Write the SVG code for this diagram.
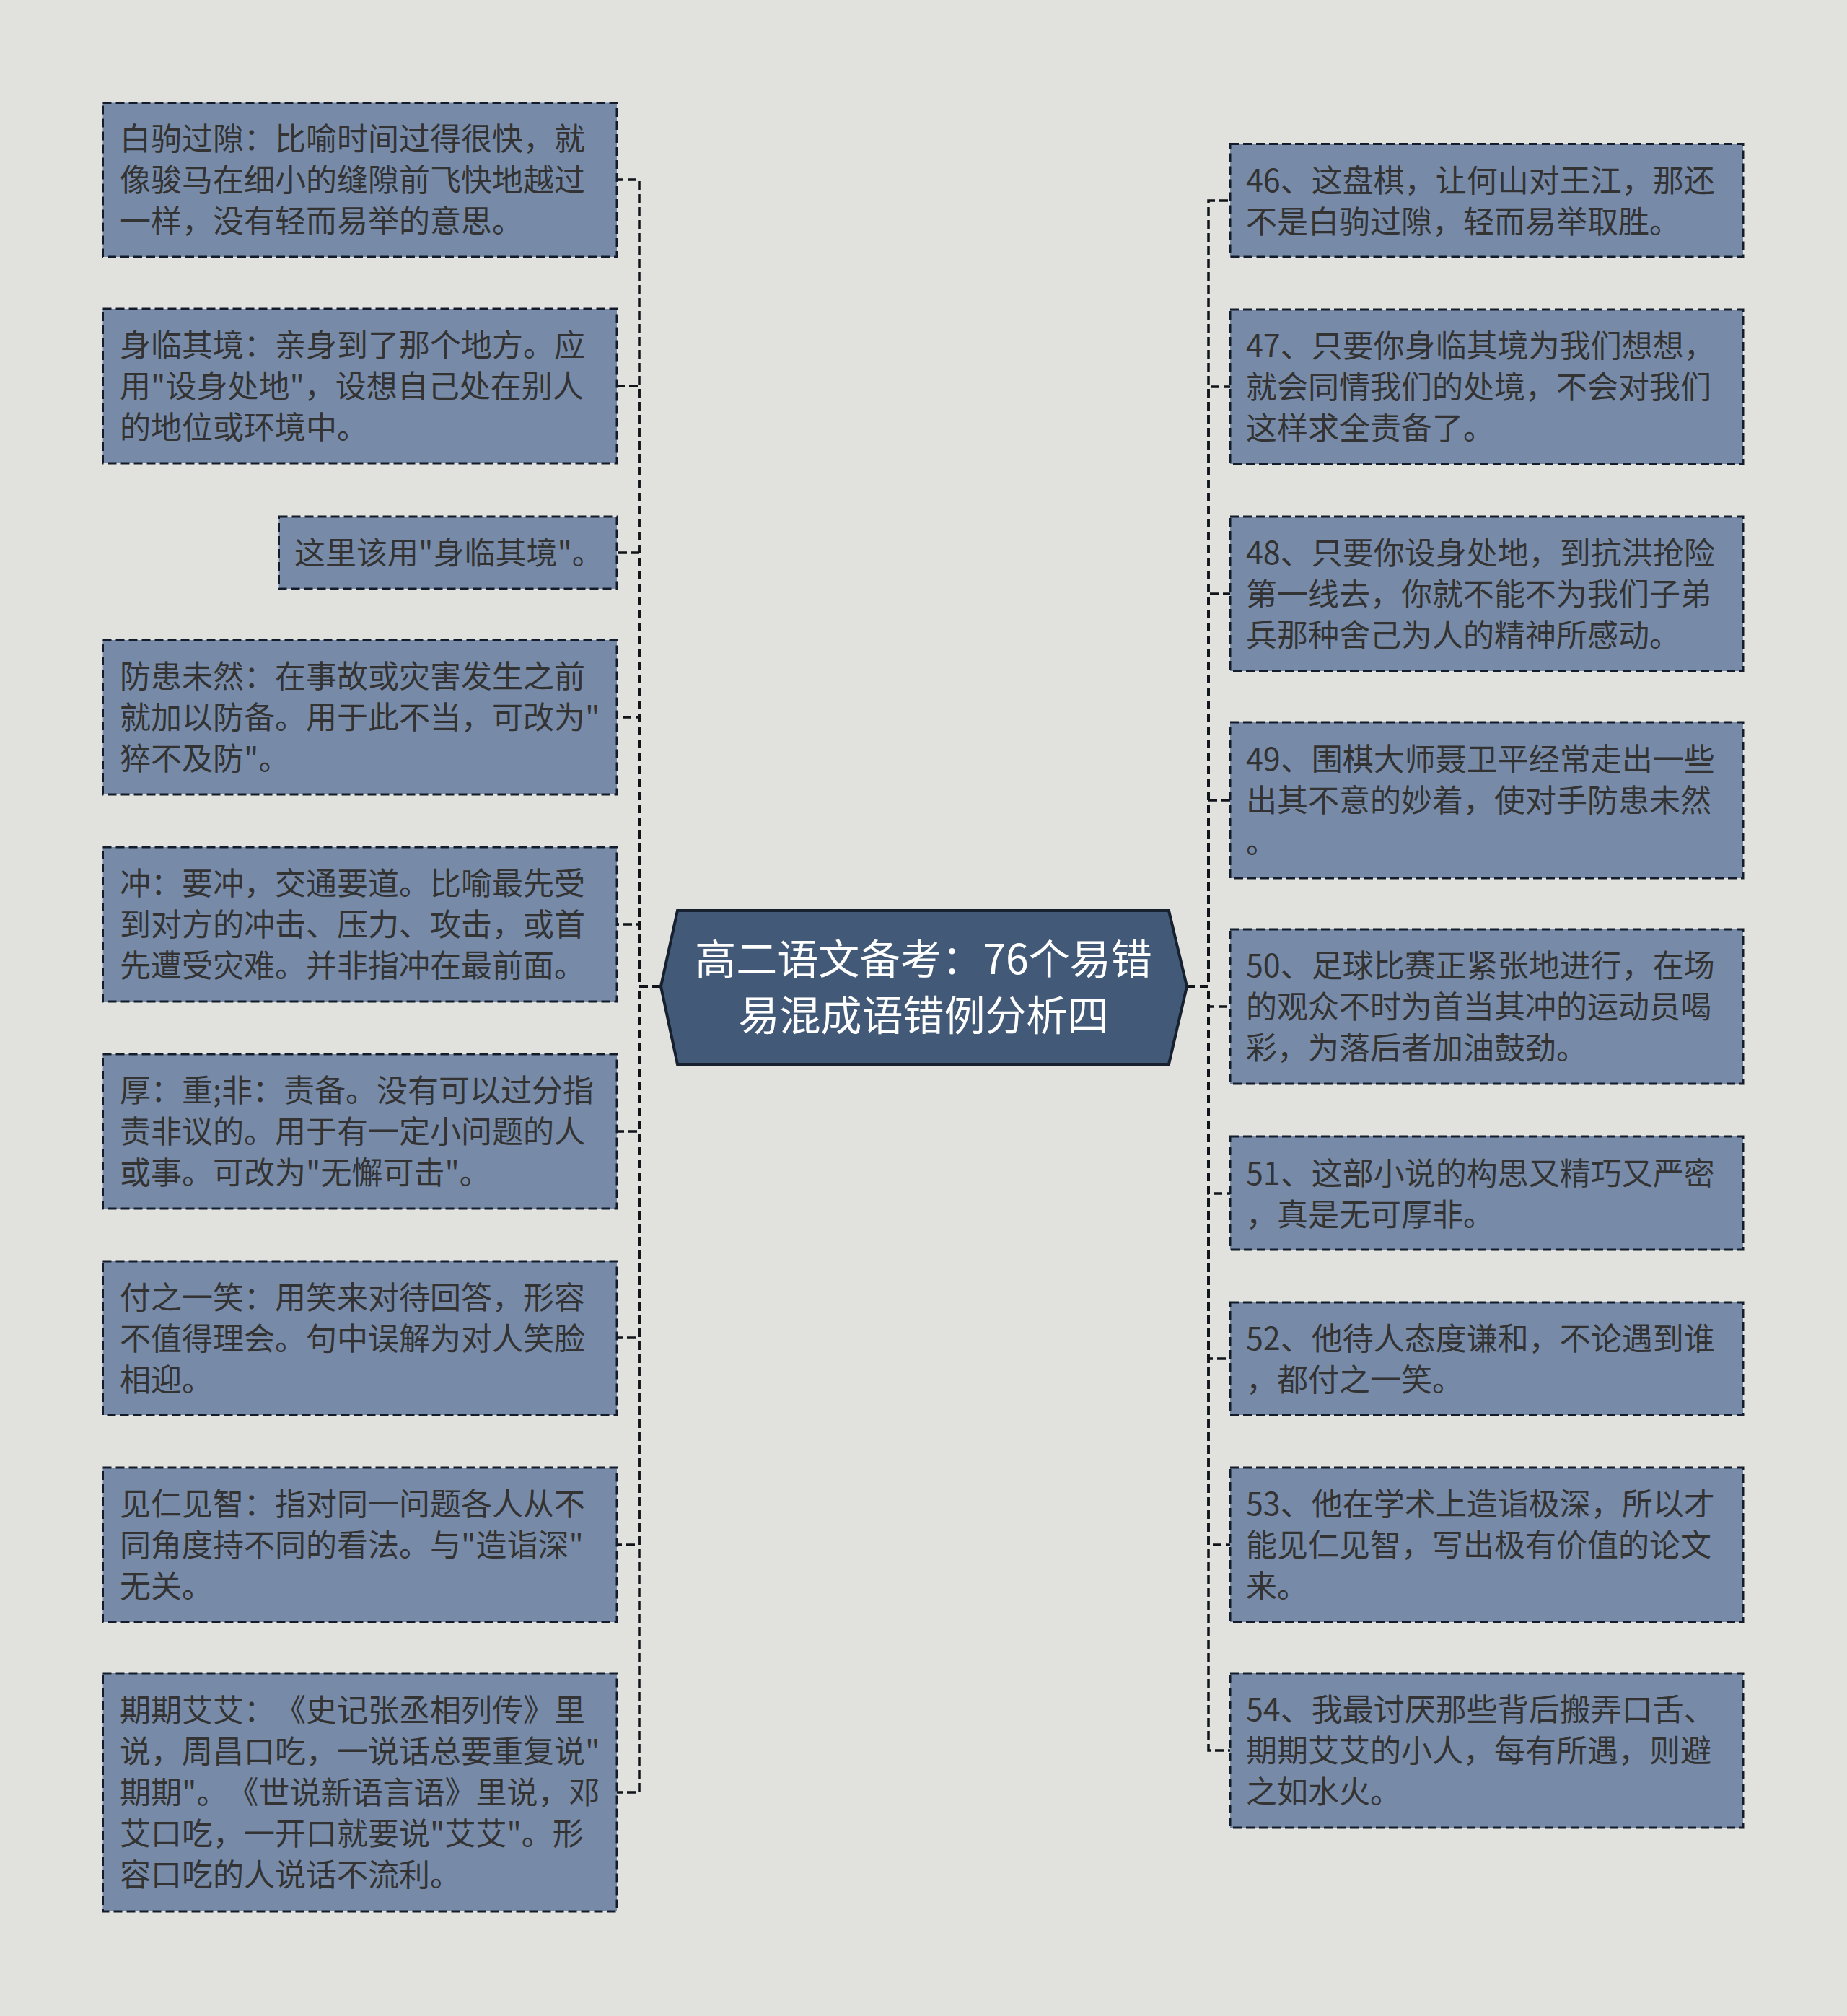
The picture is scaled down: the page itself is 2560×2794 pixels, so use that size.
<svg xmlns="http://www.w3.org/2000/svg" width="2560" height="2794" viewBox="0 0 2560 2794">
<style>
.bg{fill:#e1e2de}
.box{fill:#778ba9;stroke:#141c2b;stroke-width:3;stroke-dasharray:12 6}
.t{font-family:"Noto Sans CJK SC","Noto Sans",sans-serif;font-size:43px;fill:#333333;text-spacing-trim:space-all;font-kerning:none}
.ct{font-family:"Noto Sans CJK SC","Noto Sans",sans-serif;font-size:57px;fill:#ffffff;text-anchor:middle;text-spacing-trim:space-all;font-kerning:none}
.hex{fill:#425a78;stroke:#16202e;stroke-width:4}
.ln{fill:none;stroke:#111418;stroke-width:3.5;stroke-dasharray:12 6}
</style>
<rect class="bg" x="0" y="0" width="2560" height="2794"/>
<g id="connectors">
<path class="ln" d="M916,1367 H886 V249 H855"/>
<path class="ln" d="M916,1367 H886 V535 H855"/>
<path class="ln" d="M916,1367 H886 V766 H855"/>
<path class="ln" d="M916,1367 H886 V994 H855"/>
<path class="ln" d="M916,1367 H886 V1281 H855"/>
<path class="ln" d="M916,1367 H886 V1568 H855"/>
<path class="ln" d="M916,1367 H886 V1854 H855"/>
<path class="ln" d="M916,1367 H886 V2141 H855"/>
<path class="ln" d="M916,1367 H886 V2484 H855"/>
<path class="ln" d="M1645,1367 H1675 V278 H1705"/>
<path class="ln" d="M1645,1367 H1675 V536 H1705"/>
<path class="ln" d="M1645,1367 H1675 V823 H1705"/>
<path class="ln" d="M1645,1367 H1675 V1109 H1705"/>
<path class="ln" d="M1645,1367 H1675 V1395 H1705"/>
<path class="ln" d="M1645,1367 H1675 V1654 H1705"/>
<path class="ln" d="M1645,1367 H1675 V1883 H1705"/>
<path class="ln" d="M1645,1367 H1675 V2141 H1705"/>
<path class="ln" d="M1645,1367 H1675 V2426 H1705"/>
</g>
<g id="center">
<polygon class="hex" points="916,1367 939,1262 1620,1262 1645,1367 1620,1475 939,1475"/>
<text class="ct" x="1280" y="1350">高二语文备考：76个易错</text>
<text class="ct" x="1280" y="1428">易混成语错例分析四</text>
</g>
<g id="l1">
<rect class="box" x="142.5" y="142.5" width="712.5" height="213.5"/>
<text class="t" x="166" y="208">白驹过隙：比喻时间过得很快，就</text>
<text class="t" x="166" y="265">像骏马在细小的缝隙前飞快地越过</text>
<text class="t" x="166" y="322">一样，没有轻而易举的意思。</text>
</g>
<g id="l2">
<rect class="box" x="142.5" y="428" width="712.5" height="214"/>
<text class="t" x="166" y="494">身临其境：亲身到了那个地方。应</text>
<text class="t" x="166" y="551">用"设身处地"，设想自己处在别人</text>
<text class="t" x="166" y="608">的地位或环境中。</text>
</g>
<g id="l3">
<rect class="box" x="386.5" y="716" width="468.5" height="100"/>
<text class="t" x="408" y="782">这里该用"身临其境"。</text>
</g>
<g id="l4">
<rect class="box" x="142.5" y="887" width="712.5" height="214"/>
<text class="t" x="166" y="953">防患未然：在事故或灾害发生之前</text>
<text class="t" x="166" y="1010">就加以防备。用于此不当，可改为"</text>
<text class="t" x="166" y="1067">猝不及防"。</text>
</g>
<g id="l5">
<rect class="box" x="142.5" y="1174" width="712.5" height="214"/>
<text class="t" x="166" y="1240">冲：要冲，交通要道。比喻最先受</text>
<text class="t" x="166" y="1297">到对方的冲击、压力、攻击，或首</text>
<text class="t" x="166" y="1354">先遭受灾难。并非指冲在最前面。</text>
</g>
<g id="l6">
<rect class="box" x="142.5" y="1461" width="712.5" height="214"/>
<text class="t" x="166" y="1527">厚：重;非：责备。没有可以过分指</text>
<text class="t" x="166" y="1584">责非议的。用于有一定小问题的人</text>
<text class="t" x="166" y="1641">或事。可改为"无懈可击"。</text>
</g>
<g id="l7">
<rect class="box" x="142.5" y="1748" width="712.5" height="213"/>
<text class="t" x="166" y="1814">付之一笑：用笑来对待回答，形容</text>
<text class="t" x="166" y="1871">不值得理会。句中误解为对人笑脸</text>
<text class="t" x="166" y="1928">相迎。</text>
</g>
<g id="l8">
<rect class="box" x="142.5" y="2034" width="712.5" height="214"/>
<text class="t" x="166" y="2100">见仁见智：指对同一问题各人从不</text>
<text class="t" x="166" y="2157">同角度持不同的看法。与"造诣深"</text>
<text class="t" x="166" y="2214">无关。</text>
</g>
<g id="l9">
<rect class="box" x="142.5" y="2319" width="712.5" height="330"/>
<text class="t" x="166" y="2386">期期艾艾：《史记张丞相列传》里</text>
<text class="t" x="166" y="2443">说，周昌口吃，一说话总要重复说"</text>
<text class="t" x="166" y="2500">期期"。《世说新语言语》里说，邓</text>
<text class="t" x="166" y="2557">艾口吃，一开口就要说"艾艾"。形</text>
<text class="t" x="166" y="2614">容口吃的人说话不流利。</text>
</g>
<g id="r1">
<rect class="box" x="1705" y="199.5" width="711" height="156.5"/>
<text class="t" x="1727" y="266">46、这盘棋，让何山对王江，那还</text>
<text class="t" x="1727" y="323">不是白驹过隙，轻而易举取胜。</text>
</g>
<g id="r2">
<rect class="box" x="1705" y="429" width="711" height="214"/>
<text class="t" x="1727" y="495">47、只要你身临其境为我们想想，</text>
<text class="t" x="1727" y="552">就会同情我们的处境，不会对我们</text>
<text class="t" x="1727" y="609">这样求全责备了。</text>
</g>
<g id="r3">
<rect class="box" x="1705" y="716" width="711" height="214"/>
<text class="t" x="1727" y="782">48、只要你设身处地，到抗洪抢险</text>
<text class="t" x="1727" y="839">第一线去，你就不能不为我们子弟</text>
<text class="t" x="1727" y="896">兵那种舍己为人的精神所感动。</text>
</g>
<g id="r4">
<rect class="box" x="1705" y="1001" width="711" height="216"/>
<text class="t" x="1727" y="1068">49、围棋大师聂卫平经常走出一些</text>
<text class="t" x="1727" y="1125">出其不意的妙着，使对手防患未然</text>
<text class="t" x="1727" y="1182">。</text>
</g>
<g id="r5">
<rect class="box" x="1705" y="1288" width="711" height="214"/>
<text class="t" x="1727" y="1354">50、足球比赛正紧张地进行，在场</text>
<text class="t" x="1727" y="1411">的观众不时为首当其冲的运动员喝</text>
<text class="t" x="1727" y="1468">彩，为落后者加油鼓劲。</text>
</g>
<g id="r6">
<rect class="box" x="1705" y="1575" width="711" height="157"/>
<text class="t" x="1727" y="1642">51、这部小说的构思又精巧又严密</text>
<text class="t" x="1727" y="1699">，真是无可厚非。</text>
</g>
<g id="r7">
<rect class="box" x="1705" y="1805" width="711" height="156"/>
<text class="t" x="1727" y="1871">52、他待人态度谦和，不论遇到谁</text>
<text class="t" x="1727" y="1928">，都付之一笑。</text>
</g>
<g id="r8">
<rect class="box" x="1705" y="2034" width="711" height="214"/>
<text class="t" x="1727" y="2100">53、他在学术上造诣极深，所以才</text>
<text class="t" x="1727" y="2157">能见仁见智，写出极有价值的论文</text>
<text class="t" x="1727" y="2214">来。</text>
</g>
<g id="r9">
<rect class="box" x="1705" y="2319" width="711" height="214"/>
<text class="t" x="1727" y="2385">54、我最讨厌那些背后搬弄口舌、</text>
<text class="t" x="1727" y="2442">期期艾艾的小人，每有所遇，则避</text>
<text class="t" x="1727" y="2499">之如水火。</text>
</g>
</svg>
